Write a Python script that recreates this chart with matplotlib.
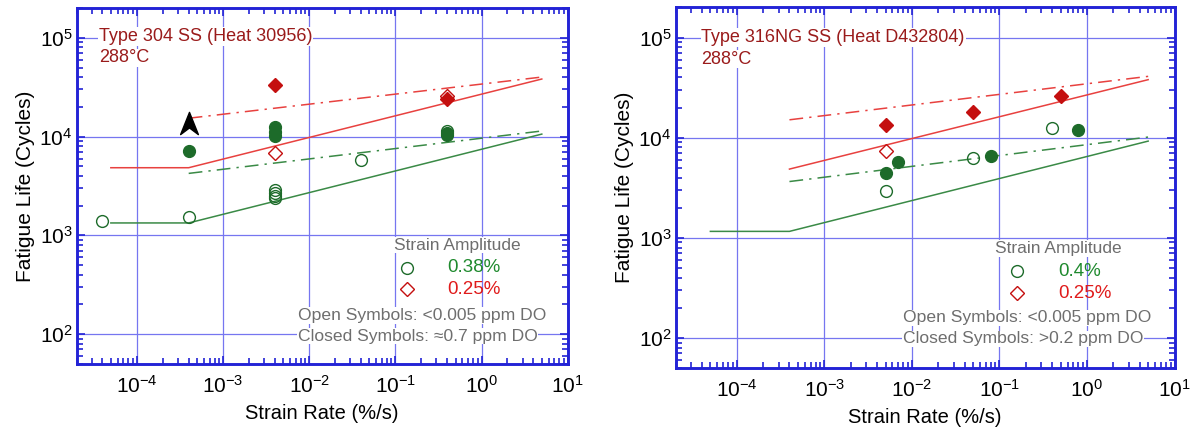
import matplotlib
matplotlib.use('Agg')
import matplotlib.pyplot as plt
from matplotlib.path import Path
from matplotlib.ticker import LogLocator, NullFormatter, LogFormatterSciNotation

plt.rcParams['font.family'] = ['Liberation Sans', 'DejaVu Sans']
plt.rcParams['mathtext.default'] = 'regular'

# Farben
FRAME = '#2323d6'
GRID = '#7676f0'
GREEN = '#1d6b2a'
GREEN_LINE = '#3a8a46'
RED = '#c40f0f'
RED_LINE = '#e8413f'
TITLE_RED = '#9a1b1b'
GRAY = '#6e6e6e'

# ---- Type 304 SS (Heat 30956) ----
ss304_open_circ_x = [4e-5, 4e-4, 4e-3, 4e-3, 4e-3, 4e-3, 0.04, 0.4]
ss304_open_circ_y = [1400, 1530, 2900, 2700, 2500, 2400, 5750, 11500]
ss304_closed_circ_x = [4e-4, 4e-3, 4e-3, 4e-3, 0.4, 0.4]
ss304_closed_circ_y = [7200, 12400, 11200, 10200, 10900, 10500]
ss304_open_dia_x = [4e-3, 0.4]
ss304_open_dia_y = [6900, 25500]
ss304_closed_dia_x = [4e-3, 0.4]
ss304_closed_dia_y = [33500, 24000]
ss304_runout_x = [4e-4]
ss304_runout_y = [13800]

ss304_red_solid_x = [5e-5, 4e-4, 5]
ss304_red_solid_y = [4840, 4840, 38300]
ss304_green_solid_x = [5e-5, 4e-4, 5]
ss304_green_solid_y = [1335, 1335, 10600]
ss304_red_dd_x = [4e-4, 5]
ss304_red_dd_y = [15350, 40100]
ss304_green_dd_x = [4e-4, 5]
ss304_green_dd_y = [4240, 11400]

# ---- Type 316NG SS (Heat D432804) ----
ss316_open_circ_x = [5e-3, 0.05, 0.4]
ss316_open_circ_y = [2960, 6280, 12400]
ss316_closed_circ_x = [5e-3, 7e-3, 0.08, 0.8]
ss316_closed_circ_y = [4470, 5770, 6580, 12050]
ss316_open_dia_x = [5e-3]
ss316_open_dia_y = [7330]
ss316_closed_dia_x = [5e-3, 0.05, 0.5]
ss316_closed_dia_y = [13500, 17900, 26000]

ss316_red_solid_x = [4e-4, 5]
ss316_red_solid_y = [4860, 38000]
ss316_green_solid_x = [5e-5, 4e-4, 5]
ss316_green_solid_y = [1160, 1160, 9250]
ss316_red_dd_x = [4e-4, 5]
ss316_red_dd_y = [15100, 41000]
ss316_green_dd_x = [4e-4, 5]
ss316_green_dd_y = [3650, 10150]

# Pfeil-Symbol (Durchlaeufer)
arrow_marker = Path([(0, 1), (0.8, -1), (0, -0.4), (-0.8, -1), (0, 1)],
                    [Path.MOVETO, Path.LINETO, Path.LINETO, Path.LINETO, Path.CLOSEPOLY])

DASHDOT = (0, (9, 4, 1.5, 4))


def setup_axes(ax):
    ax.set_xscale('log')
    ax.set_yscale('log')
    ax.set_xlim(2e-5, 10)
    ax.set_ylim(50, 2e5)
    ax.xaxis.set_major_locator(LogLocator(base=10, numticks=20))
    ax.yaxis.set_major_locator(LogLocator(base=10, numticks=20))
    ax.xaxis.set_minor_locator(LogLocator(base=10, subs=range(2, 10), numticks=20))
    ax.yaxis.set_minor_locator(LogLocator(base=10, subs=range(2, 10), numticks=20))
    ax.xaxis.set_minor_formatter(NullFormatter())
    ax.yaxis.set_minor_formatter(NullFormatter())
    ax.xaxis.set_major_formatter(LogFormatterSciNotation())
    ax.yaxis.set_major_formatter(LogFormatterSciNotation())
    ax.grid(True, which='major', color=GRID, lw=0.9)
    ax.tick_params(which='both', direction='in', top=True, right=True, color=FRAME, width=1.2)
    ax.tick_params(which='major', length=6, labelsize=15)
    ax.tick_params(axis='x', which='major', pad=8)
    ax.tick_params(axis='y', which='major', pad=3)
    ax.tick_params(which='minor', length=4.5)
    for sp in ax.spines.values():
        sp.set_color(FRAME)
        sp.set_linewidth(2.1)
    ax.set_xlabel('Strain Rate (%/s)', fontsize=14.5, labelpad=5)
    ax.set_ylabel('Fatigue Life (Cycles)', fontsize=15, labelpad=3)


def draw_panel(ax, d, title, legend_pct, closed_txt, pos):
    setup_axes(ax)
    ax.plot(d['rs_x'], d['rs_y'], color=RED_LINE, lw=1.1)
    ax.plot(d['gs_x'], d['gs_y'], color=GREEN_LINE, lw=1.1)
    ax.plot(d['rd_x'], d['rd_y'], color=RED_LINE, lw=1.1, ls=DASHDOT)
    ax.plot(d['gd_x'], d['gd_y'], color=GREEN_LINE, lw=1.1, ls=DASHDOT)

    ax.plot(d['oc_x'], d['oc_y'], 'o', ms=8.5, mfc='none', mec=GREEN, mew=1.0, ls='none')
    ax.plot(d['cc_x'], d['cc_y'], 'o', ms=8.5, mfc=GREEN, mec=GREEN, ls='none')
    ax.plot(d['od_x'], d['od_y'], 'D', ms=7, mfc='none', mec=RED, mew=1.0, ls='none')
    ax.plot(d['cd_x'], d['cd_y'], 'D', ms=7, mfc=RED, mec=RED, ls='none')
    if d.get('ar_x'):
        ax.plot(d['ar_x'], d['ar_y'], marker=arrow_marker, ms=16, color='black', ls='none')

    box = dict(facecolor='white', edgecolor='none', pad=0.5)
    tx, ty = pos['title']
    ax.text(tx, ty, title, transform=ax.transAxes, color=TITLE_RED, fontsize=13,
            va='center', ha='left', bbox=box)
    ax.text(tx, ty - 0.06, '288°C', transform=ax.transAxes, color=TITLE_RED, fontsize=13,
            va='center', ha='left', bbox=box)

    lx, ly = pos['legend']
    ax.text(lx, ly, 'Strain Amplitude', transform=ax.transAxes, color=GRAY, fontsize=12.5,
            va='center', ha='left', bbox=box)
    mx, vx = pos['marks']
    ax.plot([mx], [ly - 0.064], 'o', ms=8.5, mfc='none', mec=GREEN, mew=1.0,
            transform=ax.transAxes, clip_on=False)
    ax.text(vx, ly - 0.064, legend_pct, transform=ax.transAxes, color='#1f8a2e',
            fontsize=13.5, va='center', ha='left')
    ax.plot([mx], [ly - 0.124], 'D', ms=7, mfc='none', mec=RED, mew=1.0,
            transform=ax.transAxes, clip_on=False)
    ax.text(vx, ly - 0.124, '0.25%', transform=ax.transAxes, color='#e01b1b',
            fontsize=13.5, va='center', ha='left')

    ox, oy = pos['notes']
    ax.text(ox, oy, 'Open Symbols: <0.005 ppm DO', transform=ax.transAxes, color=GRAY,
            fontsize=12.6, va='center', ha='left', bbox=box)
    ax.text(ox, oy - 0.058, closed_txt, transform=ax.transAxes, color=GRAY,
            fontsize=12.6, va='center', ha='left', bbox=box)


fig = plt.figure(figsize=(11.98, 4.29), dpi=100)
ax1 = fig.add_axes([0.0639, 0.152, 0.410, 0.829])
ax2 = fig.add_axes([0.5639, 0.142, 0.4165, 0.8406])

d304 = dict(oc_x=ss304_open_circ_x, oc_y=ss304_open_circ_y,
            cc_x=ss304_closed_circ_x, cc_y=ss304_closed_circ_y,
            od_x=ss304_open_dia_x, od_y=ss304_open_dia_y,
            cd_x=ss304_closed_dia_x, cd_y=ss304_closed_dia_y,
            ar_x=ss304_runout_x, ar_y=ss304_runout_y,
            rs_x=ss304_red_solid_x, rs_y=ss304_red_solid_y,
            gs_x=ss304_green_solid_x, gs_y=ss304_green_solid_y,
            rd_x=ss304_red_dd_x, rd_y=ss304_red_dd_y,
            gd_x=ss304_green_dd_x, gd_y=ss304_green_dd_y)
d316 = dict(oc_x=ss316_open_circ_x, oc_y=ss316_open_circ_y,
            cc_x=ss316_closed_circ_x, cc_y=ss316_closed_circ_y,
            od_x=ss316_open_dia_x, od_y=ss316_open_dia_y,
            cd_x=ss316_closed_dia_x, cd_y=ss316_closed_dia_y,
            rs_x=ss316_red_solid_x, rs_y=ss316_red_solid_y,
            gs_x=ss316_green_solid_x, gs_y=ss316_green_solid_y,
            rd_x=ss316_red_dd_x, rd_y=ss316_red_dd_y,
            gd_x=ss316_green_dd_x, gd_y=ss316_green_dd_y)

draw_panel(ax1, d304, 'Type 304 SS (Heat 30956)', '0.38%', 'Closed Symbols: ≈0.7 ppm DO',
           dict(title=(0.045, 0.92), legend=(0.647, 0.334), marks=(0.673, 0.754),
                notes=(0.45, 0.136)))
draw_panel(ax2, d316, 'Type 316NG SS (Heat D432804)', '0.4%', 'Closed Symbols: >0.2 ppm DO',
           dict(title=(0.052, 0.917), legend=(0.641, 0.332), marks=(0.685, 0.767),
                notes=(0.455, 0.139)))

fig.savefig('out.png', dpi=100)
